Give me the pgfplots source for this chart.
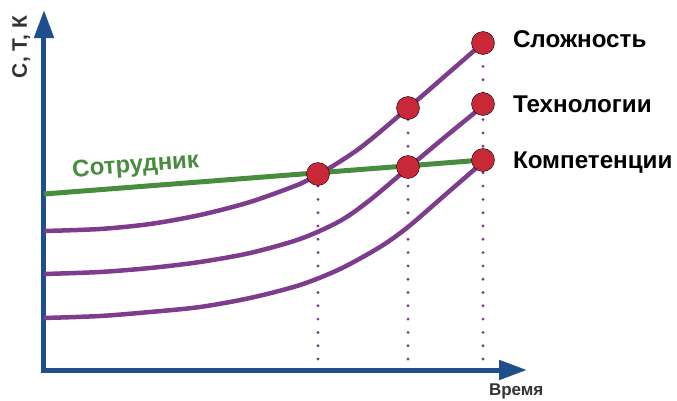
\documentclass[border=0pt]{standalone}
\usepackage{pgfplots}
\pgfplotsset{compat=1.18}
\usetikzlibrary{arrows.meta}
\usepackage{fontspec}
\setmainfont{Liberation Sans}

\definecolor{axisblue}{RGB}{31,78,140}
\definecolor{curvepurple}{RGB}{125,60,140}
\definecolor{staffgreen}{RGB}{72,140,62}
\definecolor{dotred}{RGB}{200,40,55}
\definecolor{labelgray}{RGB}{51,51,51}

\tikzset{lbl/.style={inner sep=0pt, outer sep=0pt, anchor=base west}}

\begin{document}
\begin{tikzpicture}
    \begin{axis}
        [
            x=1pt, y=1pt,
            xmin=0, xmax=483,
            ymin=0, ymax=360,
            axis lines*=left,
            axis line style={line width=5pt, axisblue, line cap=rect,
                -{Triangle[length=28pt, width=19pt]}},
            xtick=\empty, ytick=\empty,
            clip=false
        ]
        % dotted guides
        \addplot [curvepurple, line width=3.2pt, line cap=round,
            dash pattern=on 0pt off 13.3pt] coordinates {(274,11) (274,196)};
        \addplot [curvepurple, line width=3.2pt, line cap=round,
            dash pattern=on 0pt off 13.3pt] coordinates {(364,11) (364,262)};
        \addplot [curvepurple, line width=3.2pt, line cap=round,
            dash pattern=on 0pt off 13.3pt] coordinates {(439,11) (439,327)};

        % complexity / technology / competence curves
        \addplot [curvepurple, line width=4.5pt, smooth] coordinates {
            (0,139) (56,141) (106,146) (156,155) (206,168) (256,186)
            (274,195) (316,222) (364,262) (401,294) (439,327)};
        \addplot [curvepurple, line width=4.5pt, smooth] coordinates {
            (0,96) (56,98) (106,102) (156,108) (206,117) (256,131)
            (296,149) (326,170) (364,202) (401,233) (439,264)};
        \addplot [curvepurple, line width=4.5pt, smooth] coordinates {
            (0,52) (56,54) (106,58) (156,63) (206,72) (256,85)
            (296,101) (336,123) (364,143) (401,175) (439,208)};

        % employee line
        \addplot [staffgreen, line width=5pt] coordinates {(0,176) (439,210)};

        % intersections
        \addplot [only marks, mark=*, mark size=11.5pt,
            mark options={fill=dotred, draw=none}] coordinates {
            (274,196) (364,262) (364,203) (439,327) (439,266) (439,210)};

        \node [lbl, font=\fontsize{24.2}{27}\selectfont\bfseries]
            at (axis cs:469,323) {Сложность};
        \node [lbl, font=\fontsize{24.2}{27}\selectfont\bfseries]
            at (axis cs:469,258) {Технологии};
        \node [lbl, font=\fontsize{24.2}{27}\selectfont\bfseries]
            at (axis cs:469,202) {Компетенции};
        \node [lbl, rotate=4.4, text=staffgreen,
            font=\fontsize{24}{27}\selectfont\bfseries]
            at (axis cs:29,193) {Сотрудник};
        \node [lbl, rotate=90, text=labelgray,
            font=\fontsize{21}{24}\selectfont\bfseries]
            at (axis cs:-17,292) {С, Т, К};
        \node [lbl, text=labelgray,
            font=\fontsize{17}{19}\selectfont\bfseries]
            at (axis cs:445,-25) {Время};

        \path (axis cs:-44,-30) rectangle (axis cs:633,370);
    \end{axis}
\end{tikzpicture}
\end{document}
